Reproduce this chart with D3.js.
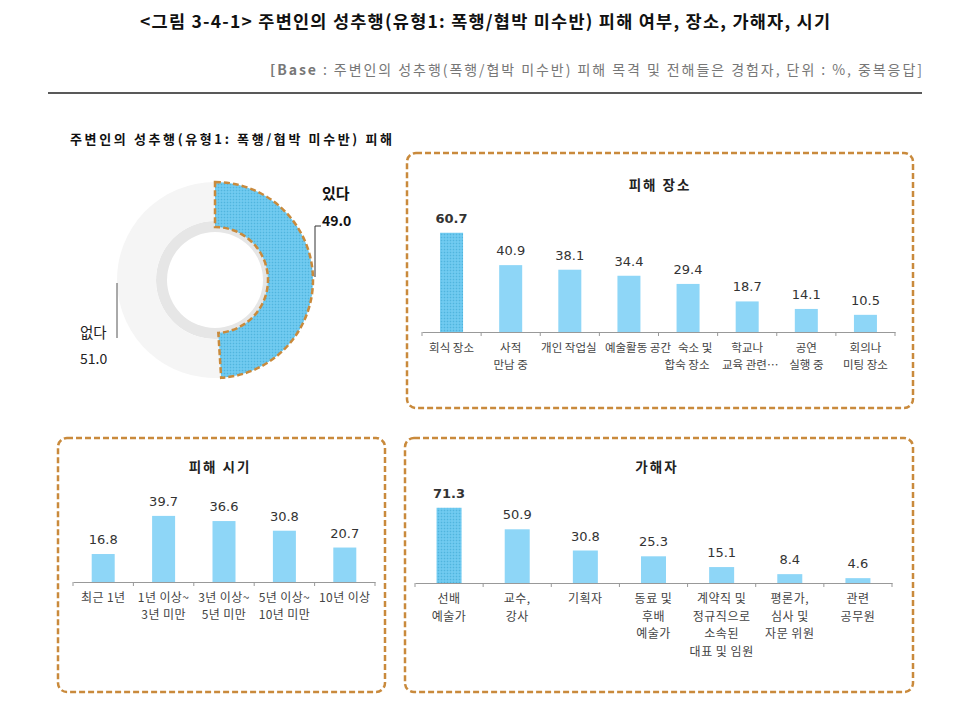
<!DOCTYPE html>
<html><head><meta charset="utf-8">
<script src="https://cdn.jsdelivr.net/npm/d3@7"></script>
<style>
body{margin:0;background:#fff;}
svg{display:block;}
</style></head>
<body>
<svg id="c" width="970" height="714"></svg>
<script>
// ---- data ----
const titleText = "<그림 3-4-1> 주변인의 성추행(유형1: 폭행/협박 미수반) 피해 여부, 장소, 가해자, 시기";
const baseText = "주변인의 성추행(폭행/협박 미수반) 피해 목격 및 전해들은 경험자, 단위 : %, 중복응답]";
const donutTitle = "주변인의 성추행(유형1: 폭행/협박 미수반) 피해";
const donutLabels = ["있다", "없다"];
const donutValues = [49.0, 51.0];

const placeTitle = "피해 장소";
const placeCats = [["회식 장소"], ["사적", "만남 중"], ["개인 작업실"], ["예술활동 공간"], ["숙소 및", "합숙 장소"], ["학교나", "교육 관련…"], ["공연", "실행 중"], ["회의나", "미팅 장소"]];
const placeValues = [60.7, 40.9, 38.1, 34.4, 29.4, 18.7, 14.1, 10.5];

const timeTitle = "피해 시기";
const timeCats = [["최근 1년"], ["1년 이상~", "3년 미만"], ["3년 이상~", "5년 미만"], ["5년 이상~", "10년 미만"], ["10년 이상"]];
const timeValues = [16.8, 39.7, 36.6, 30.8, 20.7];

const perpTitle = "가해자";
const perpCats = [["선배", "예술가"], ["교수,", "강사"], ["기획자"], ["동료 및", "후배", "예술가"], ["계약직 및", "정규직으로", "소속된", "대표 및 임원"], ["평론가,", "심사 및", "자문 위원"], ["관련", "공무원"]];
const perpValues = [71.3, 50.9, 30.8, 25.3, 15.1, 8.4, 4.6];

// ---- drawing ----
const svg = d3.select("#c");
const KR = "'Noto Sans CJK KR','Noto Sans',sans-serif";
const NUM = "'DejaVu Sans',Verdana,sans-serif";
const BORDER = "#c98a3c";
const BAR = "#8ed6f7";
const BAR_HI = "#66c6ee";

const defs = svg.append("defs");
const pat = defs.append("pattern").attr("id","hatch").attr("patternUnits","userSpaceOnUse")
  .attr("width",3).attr("height",3);
pat.append("rect").attr("width",3).attr("height",3).attr("fill",BAR_HI);
pat.append("rect").attr("width",1).attr("height",1).attr("fill","#55b3da");
pat.append("rect").attr("x",1.5).attr("y",1.5).attr("width",1).attr("height",1).attr("fill","#95d9f5");

// Title
svg.append("text").attr("x",140).attr("y",28)
  .attr("font-family",KR).attr("font-weight","bold").attr("font-size",17.5).attr("fill","#111")
  .attr("textLength",690).attr("lengthAdjust","spacing")
  .text(titleText);
const bt = svg.append("text").attr("x",270).attr("y",75)
  .attr("font-family",KR).attr("font-size",14).attr("fill","#777")
  .attr("textLength",652).attr("lengthAdjust","spacing");
bt.append("tspan").attr("font-weight","bold").text("[Base");
bt.append("tspan").text(" : " + baseText);
svg.append("line").attr("x1",48).attr("x2",922).attr("y1",93).attr("y2",93)
  .attr("stroke","#222").attr("stroke-width",1.6);

// Donut
svg.append("text").attr("x",70).attr("y",144).attr("font-family",KR).attr("font-weight","bold")
  .attr("font-size",13).attr("fill","#111").attr("textLength",322).attr("lengthAdjust","spacing").text(donutTitle);
const cx = 215, cy = 280;
const g = svg.append("g").attr("transform",`translate(${cx},${cy})`);
const pie = d3.pie().sort(null).value(d=>d)(donutValues);
g.append("circle").attr("r",59).attr("fill","#e6e6e6");
g.append("circle").attr("r",48).attr("fill","#fff");
g.append("path").attr("d", d3.arc().innerRadius(59).outerRadius(98)(pie[1])).attr("fill","#f5f5f5");
g.append("path").attr("d", d3.arc().innerRadius(53).outerRadius(98)(pie[0]))
  .attr("fill","url(#hatch)").attr("stroke",BORDER).attr("stroke-width",2.5).attr("stroke-dasharray","6,3");
// labels
svg.append("text").attr("x",322).attr("y",199).attr("font-family",KR).attr("font-weight","bold")
  .attr("font-size",15).attr("fill","#111").text(donutLabels[0]);
svg.append("text").attr("x",322).attr("y",226).attr("font-family",KR).attr("font-weight","bold")
  .attr("font-size",14).attr("fill","#111").text(donutValues[0].toFixed(1));
svg.append("path").attr("d","M321,226H315V277").attr("fill","none").attr("stroke","#333").attr("stroke-width",1);
svg.append("text").attr("x",80).attr("y",338).attr("font-family",KR)
  .attr("font-size",14.5).attr("fill","#222").text(donutLabels[1]);
svg.append("text").attr("x",80).attr("y",364).attr("font-family",KR)
  .attr("font-size",14).attr("fill","#222").text(donutValues[1].toFixed(1));
svg.append("line").attr("x1",117).attr("x2",117).attr("y1",283).attr("y2",338).attr("stroke","#555");

function panel(cfg){
  svg.append("rect").attr("x",cfg.box[0]).attr("y",cfg.box[1]).attr("width",cfg.box[2]).attr("height",cfg.box[3])
    .attr("rx",9).attr("fill","none").attr("stroke",BORDER).attr("stroke-width",2.5).attr("stroke-dasharray","6,3");
  svg.append("text").attr("x",cfg.titleX).attr("y",cfg.titleY).attr("text-anchor","middle")
    .attr("font-family",KR).attr("font-weight","bold").attr("font-size",13.5).attr("fill","#222")
    .attr("letter-spacing",2).text(cfg.title);
  const idx = cfg.values.map((d,i)=>i);
  const x = d3.scaleBand().domain(idx).range(cfg.xr).paddingInner(0).paddingOuter(0);
  const y = d3.scaleLinear().domain([0,100]).range([cfg.base, cfg.base - cfg.k*100]);
  const bw = cfg.bw;
  const ax = svg.append("g").attr("transform",`translate(0,${cfg.base})`)
    .call(d3.axisBottom(x).tickSize(0).tickFormat(""));
  ax.select(".domain").attr("stroke","#999").attr("stroke-width",1.2);
  ax.selectAll(".tick").remove();
  const bounds = idx.map(i=>x(i)).concat([x(idx[idx.length-1])+x.bandwidth()]);
  svg.selectAll(null).data(bounds).enter().append("line")
    .attr("x1",d=>d).attr("x2",d=>d).attr("y1",cfg.base).attr("y2",cfg.base+4).attr("stroke","#999");
  svg.selectAll(null).data(cfg.values).enter().append("rect")
    .attr("x",(d,i)=>x(i)+x.bandwidth()/2-bw/2).attr("width",bw)
    .attr("y",d=>y(d)).attr("height",d=>cfg.base-y(d))
    .attr("fill",(d,i)=> (cfg.hi && i===0) ? "url(#hatch)" : BAR);
  svg.selectAll(null).data(cfg.values).enter().append("text")
    .attr("x",(d,i)=>x(i)+x.bandwidth()/2).attr("y",d=>y(d)-10)
    .attr("text-anchor","middle").attr("font-family",NUM).attr("font-size",13)
    .attr("font-weight",(d,i)=>(cfg.hi && i===0)?"bold":"normal").attr("fill","#333")
    .text(d=>d.toFixed(1));
  cfg.cats.forEach((lines,i)=>{
    lines.forEach((ln,j)=>{
      const off = cfg.dx ? (cfg.dx[i][j] || 0) : 0;
      svg.append("text").attr("x",x(i)+x.bandwidth()/2 + off).attr("y",cfg.base+20+j*cfg.lh)
        .attr("text-anchor","middle").attr("font-family",KR).attr("font-size",cfg.fs).attr("fill","#444")
        .attr("letter-spacing",cfg.ls).text(ln);
    });
  });
}

panel({box:[407,153,506,255], title:placeTitle, titleX:660, titleY:190, values:placeValues, cats:placeCats,
  xr:[422,895], base:332, k:1.635, bw:23, hi:true, lh:17, fs:11.5, ls:0,
  dx:[[0],[0,0],[-1],[9],[7,-1],[0,3],[0,0],[0,0]]});
panel({box:[58,438,327,254], title:timeTitle, titleX:220, titleY:472, values:timeValues, cats:timeCats,
  xr:[73,375], base:582, k:1.665, bw:23, hi:false, lh:17, fs:12, ls:0.4});
panel({box:[405,438,508,254], title:perpTitle, titleX:657, titleY:472, values:perpValues, cats:perpCats,
  xr:[415,892], base:583, k:1.055, bw:25, hi:true, lh:17.5, fs:12, ls:0.5});
</script>
</body></html>
